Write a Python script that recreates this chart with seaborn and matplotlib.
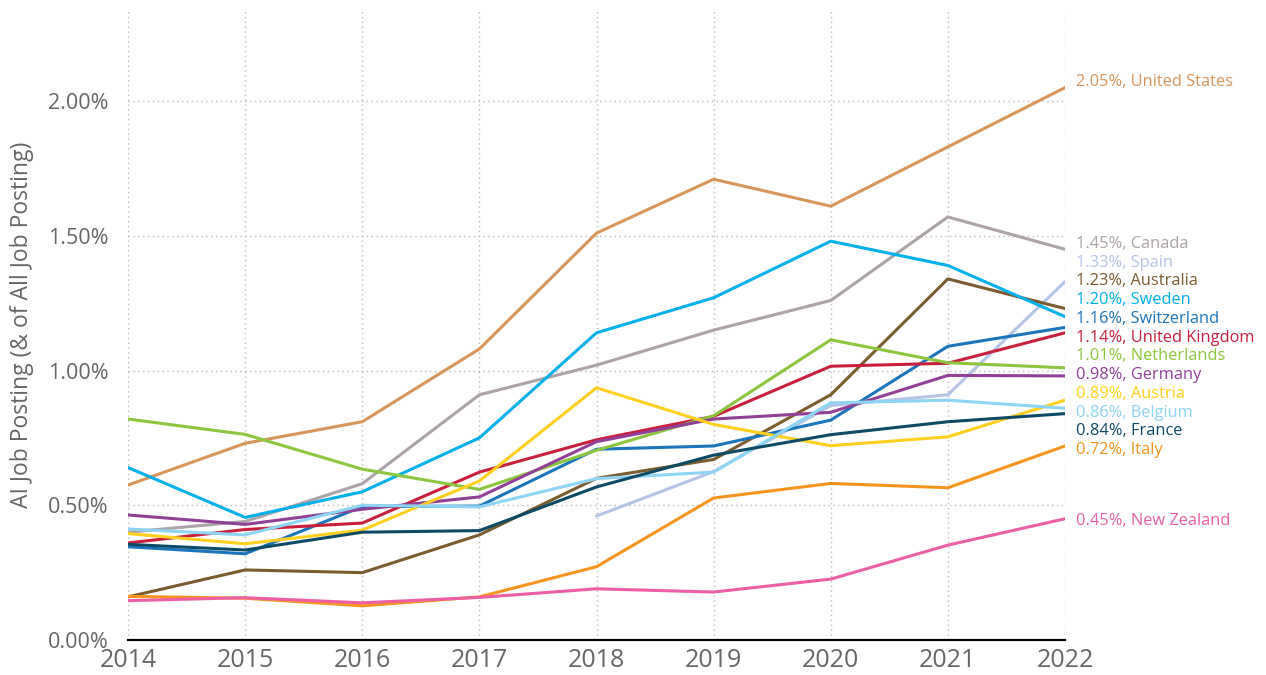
import numpy as np
import pandas as pd
import matplotlib
matplotlib.use("Agg")
import matplotlib.pyplot as plt
import seaborn as sns

years = [2014, 2015, 2016, 2017, 2018, 2019, 2020, 2021, 2022]

countries = ["United States", "Canada", "Spain", "Australia", "Sweden", "Switzerland",
             "United Kingdom", "Netherlands", "Germany", "Austria", "Belgium", "France",
             "Italy", "New Zealand"]

united_states = [0.575, 0.73, 0.81, 1.08, 1.51, 1.71, 1.61, 1.83, 2.05]
canada = [0.40, 0.44, 0.58, 0.91, 1.02, 1.15, 1.26, 1.57, 1.45]
spain = [np.nan, np.nan, np.nan, np.nan, 0.46, 0.625, 0.87, 0.91, 1.33]
australia = [0.16, 0.26, 0.25, 0.39, 0.60, 0.67, 0.91, 1.34, 1.23]
sweden = [0.64, 0.455, 0.55, 0.75, 1.14, 1.27, 1.48, 1.39, 1.20]
switzerland = [0.346, 0.32, 0.495, 0.497, 0.708, 0.72, 0.816, 1.09, 1.16]
united_kingdom = [0.36, 0.41, 0.434, 0.623, 0.743, 0.83, 1.016, 1.027, 1.14]
netherlands = [0.82, 0.763, 0.634, 0.559, 0.704, 0.832, 1.114, 1.029, 1.01]
germany = [0.464, 0.429, 0.485, 0.531, 0.736, 0.82, 0.845, 0.982, 0.98]
austria = [0.395, 0.357, 0.408, 0.59, 0.936, 0.80, 0.721, 0.754, 0.89]
belgium = [0.412, 0.39, 0.50, 0.494, 0.599, 0.623, 0.88, 0.89, 0.86]
france = [0.355, 0.334, 0.40, 0.406, 0.568, 0.686, 0.762, 0.81, 0.84]
italy = [0.162, 0.155, 0.127, 0.16, 0.272, 0.527, 0.581, 0.565, 0.72]
new_zealand = [0.146, 0.157, 0.138, 0.158, 0.19, 0.178, 0.226, 0.352, 0.45]

series = [united_states, canada, spain, australia, sweden, switzerland, united_kingdom,
          netherlands, germany, austria, belgium, france, italy, new_zealand]

colors = ["#D8955B", "#ACA3AA", "#B4C3E6", "#7A5C2E", "#00B0EA", "#1B75BC",
          "#C8203C", "#8CC63E", "#923F98", "#FFD01F", "#8ED4F4", "#0D4A66",
          "#F7941E", "#EC5FA5"]

rows = []
for c, vals in zip(countries, series):
    for y, v in zip(years, vals):
        if not np.isnan(v):
            rows.append({"Year": y, "Value": v, "Country": c})
df = pd.DataFrame(rows)
palette = dict(zip(countries, colors))

sns.set_style("white")
plt.rcParams["font.family"] = ["Open Sans", "DejaVu Sans"]

fig = plt.figure(figsize=(12.66, 6.75), dpi=100)
ax = fig.add_axes([128 / 1266, 35 / 675, (1065 - 128) / 1266, 630 / 675])

sns.lineplot(data=df, x="Year", y="Value", hue="Country", hue_order=countries,
             palette=palette, linewidth=2.2, legend=False, ax=ax, sort=True)

ax.set_xlim(2014, 2022)
ax.set_ylim(0, 2.338)
ax.set_xticks(years)
ax.set_xticklabels([str(y) for y in years])
ax.set_yticks([0, 0.5, 1.0, 1.5, 2.0])
ax.set_yticklabels(["0.00%", "0.50%", "1.00%", "1.50%", "2.00%"])
ax.tick_params(axis="x", labelsize=18, colors="#666666", length=0, pad=6)
ax.tick_params(axis="y", labelsize=15.5, colors="#666666", length=0, pad=14)
ax.set_xlabel("")
ax.set_ylabel("AI Job Posting (& of All Job Posting)", fontsize=16.5, color="#666666", labelpad=10)

ax.grid(True, axis="both", linestyle=(0, (1, 2.5)), color="#bbbbbb", linewidth=1.0)
ax.set_axisbelow(True)
for s in ["top", "right", "left"]:
    ax.spines[s].set_visible(False)
ax.spines["bottom"].set_color("black")
ax.spines["bottom"].set_linewidth(1.6)

# right-end labels with simple overlap avoidance
last_vals = [(c, vals[-1], col) for c, vals, col in zip(countries, series, colors)]
order = sorted(range(len(last_vals)), key=lambda i: -last_vals[i][1])
pos = {i: last_vals[i][1] + (0.02 if last_vals[i][1] > 0.6 else -0.008) for i in order}
gap = 0.0695
for _ in range(500):
    moved = False
    for a, b in zip(order[:-1], order[1:]):
        d = pos[a] - pos[b]
        if d < gap:
            shift = (gap - d) / 2
            pos[a] += shift
            pos[b] -= shift
            moved = True
    if not moved:
        break

for i in order:
    c, v, col = last_vals[i]
    ax.text(2022.09, pos[i], f"{v:.2f}%, {c}", color=col, fontsize=11.8,
            va="center", ha="left", clip_on=False)

fig.savefig("out.png", dpi=100)
